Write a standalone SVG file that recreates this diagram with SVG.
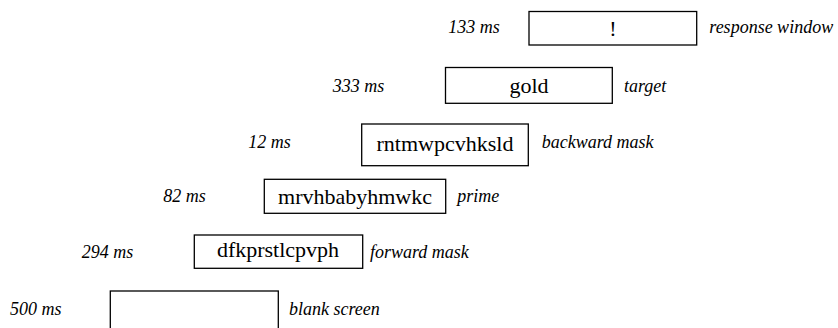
<svg xmlns="http://www.w3.org/2000/svg" width="838" height="328" viewBox="0 0 838 328">
<style>
.box{fill:#fff;stroke:#000;stroke-width:1.3}
.stim{font-family:"Liberation Serif","Times New Roman",serif;font-size:22px;fill:#000;text-anchor:middle}
.lab{font-family:"Liberation Serif","Times New Roman",serif;font-size:18px;font-style:italic;fill:#000}
</style>
<rect width="838" height="328" fill="#fff"/>
<g id="response">
<text class="lab" x="448.3" y="33">133 ms</text>
<rect class="box" x="529" y="11.5" width="167.7" height="33.5"/>
<text class="stim" x="613" y="36">!</text>
<text class="lab" x="709.3" y="33">response window</text>
</g>
<g id="target">
<text class="lab" x="332.7" y="91.5">333 ms</text>
<rect class="box" x="445.5" y="67.5" width="166.8" height="35.8"/>
<text class="stim" x="529" y="92.5">gold</text>
<text class="lab" x="624" y="91.5">target</text>
</g>
<g id="backward">
<text class="lab" x="248.3" y="148">12 ms</text>
<rect class="box" x="361.7" y="124" width="166.6" height="41.7"/>
<text class="stim" x="445" y="150.5">rntmwpcvhksld</text>
<text class="lab" x="541.7" y="148">backward mask</text>
</g>
<g id="prime">
<text class="lab" x="163.3" y="202">82 ms</text>
<rect class="box" x="264.3" y="179.3" width="181.4" height="34"/>
<text class="stim" x="355" y="203.5">mrvhbabyhmwkc</text>
<text class="lab" x="457.3" y="202">prime</text>
</g>
<g id="forward">
<text class="lab" x="81.7" y="258">294 ms</text>
<rect class="box" x="194.3" y="235" width="168.4" height="33.3"/>
<text class="stim" x="278" y="257">dfkprstlcpvph</text>
<text class="lab" x="370" y="258">forward mask</text>
</g>
<g id="blank">
<text class="lab" x="10" y="315">500 ms</text>
<rect class="box" x="110.3" y="291" width="168" height="45"/>
<text class="lab" x="289" y="315">blank screen</text>
</g>
<g id="connectors"/>
</svg>
